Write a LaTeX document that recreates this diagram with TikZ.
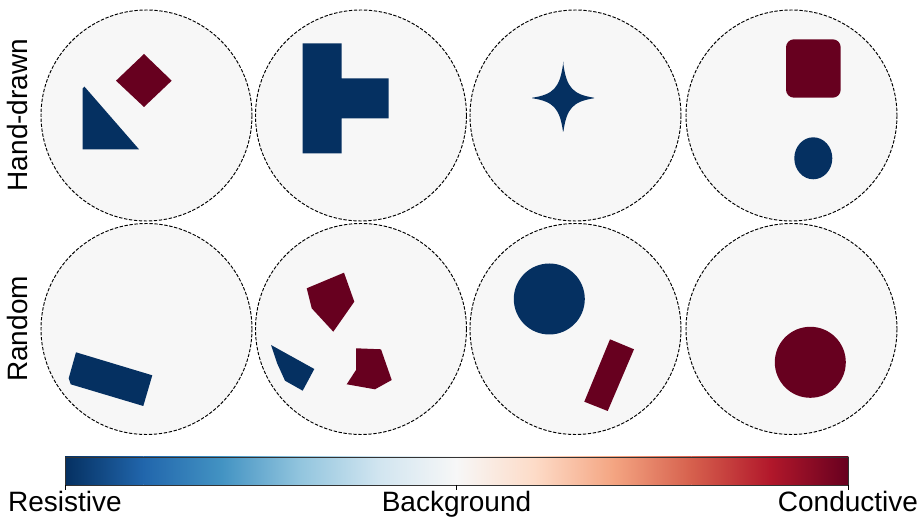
\documentclass[tikz,border=0pt]{standalone}
\usepackage{fontspec}
\setmainfont{Liberation Sans}
\definecolor{bgc}{HTML}{F7F7F7}
\definecolor{res}{HTML}{053061}
\definecolor{con}{HTML}{67001F}
\definecolor{c0}{HTML}{053061}
\definecolor{c1}{HTML}{2166AC}
\definecolor{c2}{HTML}{4393C3}
\definecolor{c3}{HTML}{92C5DE}
\definecolor{c4}{HTML}{D1E5F0}
\definecolor{c5}{HTML}{F7F7F7}
\definecolor{c6}{HTML}{FDDBC7}
\definecolor{c7}{HTML}{F4A582}
\definecolor{c8}{HTML}{D6604D}
\definecolor{c9}{HTML}{B2182B}
\definecolor{c10}{HTML}{67001F}
\tikzset{
  eitdomain/.style={fill=bgc, draw=black, line width=0.95pt, dash pattern=on 3.4pt off 1.6pt},
  lbl/.style={font=\fontsize{28}{32}\selectfont, inner sep=0pt},
  rowlbl/.style={lbl, rotate=90, anchor=center},
}
\begin{document}
\begin{tikzpicture}[x=1pt,y=-1pt]
\useasboundingbox (0,0) rectangle (922,526);
\fill[white] (0,0) rectangle (922,526);
% domains
\foreach \cx in {146.5,361,575.5,791.5}{
  \draw[eitdomain] (\cx,115.5) circle (105.5);
  \draw[eitdomain] (\cx,329) circle (105.5);
}
% row 1, circle 1
\fill[con] (144,54) -- (171.7,80.7) -- (144,107) -- (116,80.7) -- cycle;
\fill[res] (82.7,88.5) to[out=-80,in=135] (84.5,86.7) -- (139,149.3) -- (82.7,149.3) -- cycle;
% circle 2: T shape
\fill[res] (302.7,43.3) -- (341.7,43.3) -- (341.7,78.3) -- (388.7,78.3) -- (388.7,118.3) -- (341.7,118.3) -- (341.7,153.3) -- (302.7,153.3) -- cycle;
% circle 3: star
\fill[res, shift={(563.2,98)}, rounded corners=1.5pt] (0,-35) .. controls (3.5,-10) and (10,-3.5) .. (32.5,0)
  .. controls (10,3.5) and (3.5,10) .. (0,35)
  .. controls (-3.5,10) and (-10,3.5) .. (-32.5,0)
  .. controls (-10,-3.5) and (-3.5,-10) .. (0,-35) -- cycle;
% circle 4
\fill[con, rounded corners=8pt] (786,39.3) rectangle (840.7,97.7);
\fill[res] (813.3,158.3) ellipse [x radius=19, y radius=21];
% row 2, circle 5
\fill[res] (76,352.3) -- (152.3,375.3) -- (143.3,406) -- (70.7,384.3) -- (68.7,378.3) -- cycle;
% circle 6
\fill[con] (306.7,288.3) -- (344,272.7) -- (354.3,301.7) -- (333.3,331.7) -- (311.7,308.3) -- cycle;
\fill[res] (271,345) -- (314.3,369) -- (302.7,390.7) -- (285,380.7) -- (277,363) -- cycle;
\fill[con] (356,348.3) -- (381,349.3) -- (391.7,380) -- (375,389.3) -- (346.7,384.3) -- (356,370) -- cycle;
% circle 7
\fill[res] (549.3,299) circle (35.5);
\fill[con] (610,339.3) -- (634,349.3) -- (607.7,411) -- (584.3,401.7) -- cycle;
% circle 8
\fill[con] (810.3,362.3) circle (35.5);
% row labels
\node[rowlbl] (hand) at (17,115) {Hand-drawn};
\node[rowlbl] (rand) at (17,329) {Random};
% colorbar
\foreach \i [evaluate=\i as \xa using 65+78.3*\i, evaluate=\i as \xb using 65+78.3*(\i+1), evaluate=\i as \j using int(\i+1)] in {0,...,9}{
  \shade[left color=c\i, right color=c\j] (\xa,457) rectangle (\xb+0.3,485);
}
\draw[line width=0.6pt, black!80] (65,457) rectangle (848,485);
\foreach \tx in {65,456.5,848}{
  \draw[line width=0.6pt] (\tx,485) -- (\tx,490);
}
\node[lbl, anchor=base] (resl) at (65,512) {Resistive};
\node[lbl, anchor=base] (bgl) at (456.5,512) {Background};
\node[lbl, anchor=base] (conl) at (848,512) {Conductive};
\end{tikzpicture}
\end{document}
